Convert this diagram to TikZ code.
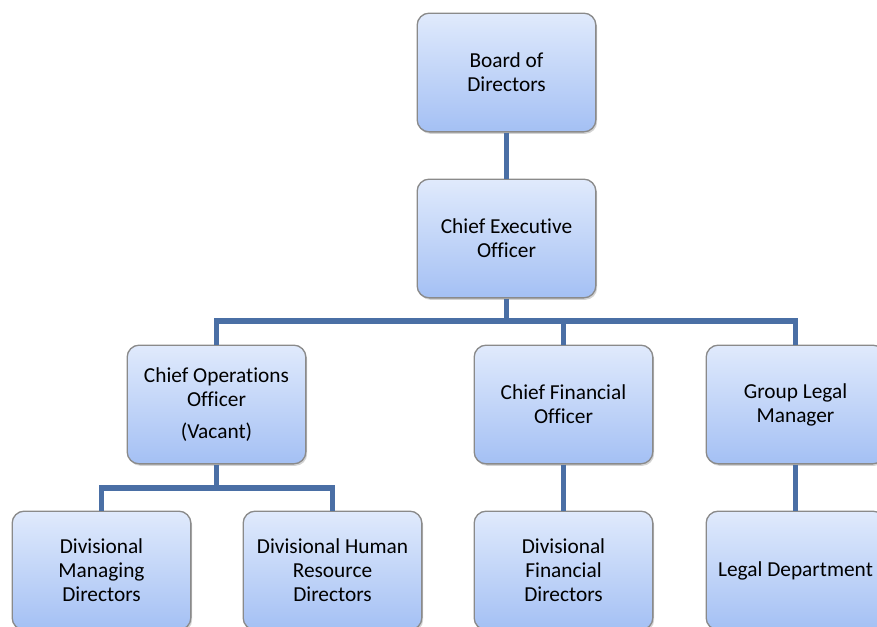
\documentclass[tikz,border=0pt]{standalone}
\usepackage{fontspec}
\setmainfont[Ligatures=NoCommon]{Carlito}
\usepackage{xcolor}
\usetikzlibrary{shadows}
\definecolor{boxTop}{HTML}{E0EAFC}
\definecolor{boxBottom}{HTML}{A4C0F4}
\definecolor{boxEdge}{HTML}{8A8A8A}
\definecolor{linkBlue}{HTML}{4A6FA5}
\tikzset{
  orgBox/.style={draw=boxEdge, line width=1pt, rounded corners=9pt,
    top color=boxTop, bottom color=boxBottom,
    minimum width=134pt, minimum height=89pt, align=center,
    font=\fontsize{16}{18}\selectfont,
    drop shadow={opacity=0.35, shadow xshift=1pt, shadow yshift=-1.5pt}},
  orgLink/.style={draw=linkBlue, line width=3.8pt}
}

\begin{document}
\begin{tikzpicture}[x=0.75pt, y=-0.75pt]
  \useasboundingbox (0,0) rectangle (877,626);
  \coordinate (topBus) at (0,321);
  \coordinate (cooBus) at (0,488);

  \node[orgBox] (board) at (506.5,72.5) {Board of\\Directors};
  \node[orgBox] (ceo) at (506.5,238.5) {Chief Executive\\Officer};
  \node[orgBox] (coo) at (216.5,404.5) {Chief Operations\\Officer\\[6pt](Vacant)};
  \node[orgBox] (cfo) at (563.5,404.5) {Chief Financial\\Officer};
  \node[orgBox] (glm) at (795.5,404.5) {Group Legal\\Manager};

  \node[orgBox] (dmd) at (101.5,570.5) {Divisional\\Managing\\Directors};
  \node[orgBox] (dhr) at (332.5,570.5) {Divisional Human\\Resource\\Directors};
  \node[orgBox] (dfd) at (563.5,570.5) {Divisional\\Financial\\Directors};
  \node[orgBox] (legal) at (795.5,570.5) {Legal Department};

  \draw[orgLink] (board.south) -- (ceo.north);
  \draw[orgLink] (ceo.south) -- (ceo.south |- topBus);
  \draw[orgLink] (coo.north) -- (coo.north |- topBus) -- (glm.north |- topBus) -- (glm.north);
  \draw[orgLink] (cfo.north) -- (cfo.north |- topBus);
  \draw[orgLink] (coo.south) -- (coo.south |- cooBus);
  \draw[orgLink] (dmd.north) -- (dmd.north |- cooBus) -- (dhr.north |- cooBus) -- (dhr.north);
  \draw[orgLink] (cfo.south) -- (dfd.north);
  \draw[orgLink] (glm.south) -- (legal.north);
\end{tikzpicture}
\end{document}
